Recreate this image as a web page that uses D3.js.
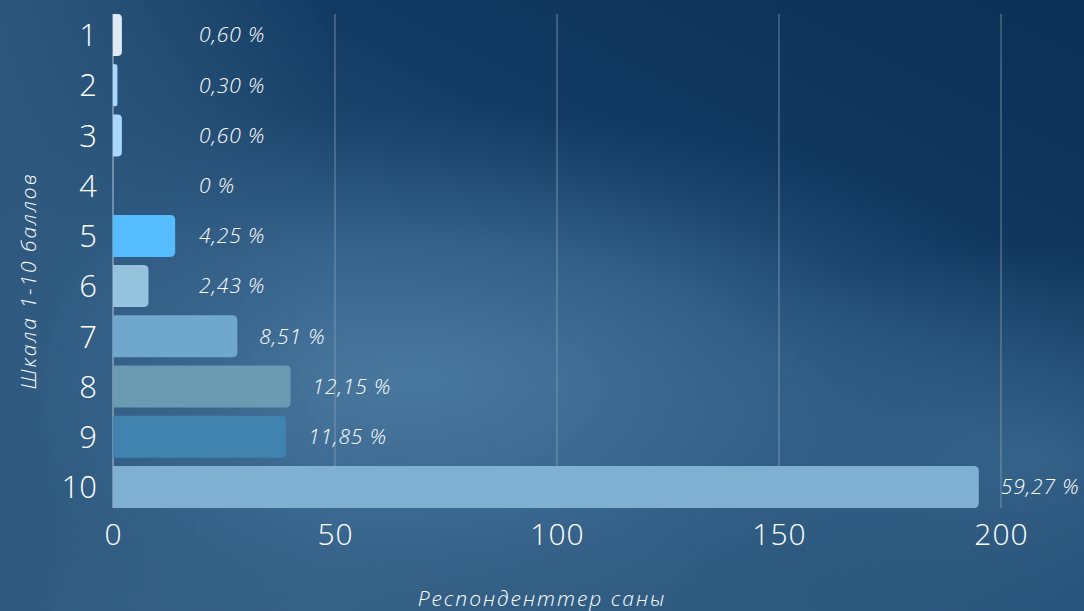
<!DOCTYPE html>
<html>
<head>
<meta charset="utf-8">
<script src="https://cdn.jsdelivr.net/npm/d3@7"></script>
<style>
  html, body { margin: 0; padding: 0; background: #2d5880; }
  svg { display: block; font-family: "Open Sans", "Lato", sans-serif; }
</style>
</head>
<body>
<svg id="chart" width="1084" height="611"></svg>
<script>
// scores 1..10, number of respondents, share labels, bar colours
var categories = ["1", "2", "3", "4", "5", "6", "7", "8", "9", "10"];
var counts = [2, 1, 2, 0, 14, 8, 28, 40, 39, 195];
var shares = ["0,60 %", "0,30 %", "0,60 %", "0 %", "4,25 %", "2,43 %", "8,51 %", "12,15 %", "11,85 %", "59,27 %"];
var barColors = ["#dfeaf4", "#a8d8fb", "#a8d8fb", "#a8d8fb", "#55bdff", "#95c2dc", "#70a8cd", "#6b9ab3", "#4083ae", "#7fb0d2"];
var xTicks = [0, 50, 100, 150, 200];

var svg = d3.select("#chart");
var W = 1084, H = 611;
var margin = {left: 113, right: 83, top: 10, bottom: 99};

  // background gradients
var defs = svg.append("defs");
var lin = defs.append("linearGradient").attr("id", "bg")
    .attr("x1", "1").attr("y1", "0").attr("x2", "0.1").attr("y2", "1");
lin.append("stop").attr("offset", "0").attr("stop-color", "#0c2f55");
lin.append("stop").attr("offset", "0.35").attr("stop-color", "#123a62");
lin.append("stop").attr("offset", "0.7").attr("stop-color", "#2f5a80");
lin.append("stop").attr("offset", "1").attr("stop-color", "#3a6589");

var glow = defs.append("radialGradient").attr("id", "glow")
    .attr("cx", "0.38").attr("cy", "0.62").attr("r", "0.45")
    .attr("gradientTransform", "translate(0.38,0.62) scale(1.4,1) rotate(-30) translate(-0.38,-0.62)");
glow.append("stop").attr("offset", "0").attr("stop-color", "#4b7aa0").attr("stop-opacity", 0.95);
glow.append("stop").attr("offset", "0.5").attr("stop-color", "#41709a").attr("stop-opacity", 0.6);
glow.append("stop").attr("offset", "1").attr("stop-color", "#2f5a80").attr("stop-opacity", 0);

var glowR = defs.append("radialGradient").attr("id", "glowR")
    .attr("cx", "0.95").attr("cy", "0.75").attr("r", "0.35");
glowR.append("stop").attr("offset", "0").attr("stop-color", "#3c6a90").attr("stop-opacity", 0.8);
glowR.append("stop").attr("offset", "1").attr("stop-color", "#3c6a90").attr("stop-opacity", 0);

var leftG = defs.append("linearGradient").attr("id", "leftG")
    .attr("x1", "0").attr("y1", "0").attr("x2", "1").attr("y2", "0");
leftG.append("stop").attr("offset", "0").attr("stop-color", "#2e587e").attr("stop-opacity", 0.9);
leftG.append("stop").attr("offset", "0.12").attr("stop-color", "#2e587e").attr("stop-opacity", 0.5);
leftG.append("stop").attr("offset", "0.3").attr("stop-color", "#2e587e").attr("stop-opacity", 0);

svg.append("rect").attr("width", W).attr("height", H).attr("fill", "url(#bg)");
svg.append("rect").attr("width", W).attr("height", H).attr("fill", "url(#glow)");
svg.append("rect").attr("width", W).attr("height", H).attr("fill", "url(#glowR)");
svg.append("rect").attr("width", W).attr("height", H).attr("fill", "url(#leftG)");

var x = d3.scaleLinear().domain([0, 200]).range([margin.left, W - margin.right]);
var y = d3.scaleBand().domain(categories)
    .range([margin.top, H - margin.bottom])
    .paddingInner(0.164).paddingOuter(0.08);

  // vertical grid lines
svg.append("g").selectAll("line")
    .data(xTicks.slice(1))
    .join("line")
    .attr("x1", d => x(d)).attr("x2", d => x(d))
    .attr("y1", y.range()[0] + 4).attr("y2", y.range()[1] - 4)
    .attr("stroke", "#8fa9c0").attr("stroke-opacity", 0.7).attr("stroke-width", 1);

  // axis line
svg.append("line")
    .attr("x1", x(0)).attr("x2", x(0))
    .attr("y1", y.range()[0] + 4).attr("y2", y.range()[1] - 4)
    .attr("stroke", "#9fb3c6").attr("stroke-width", 1.2);

  // bars with rounded right end
function barPath(v, cat) {
  var x0 = x(0), x1 = x(v), y0 = y(cat), h = y.bandwidth();
  var r = Math.min(5, (x1 - x0) / 2);
  if (x1 - x0 <= 0) return "";
  return "M" + x0 + "," + y0 + "H" + (x1 - r) +
    "Q" + x1 + "," + y0 + " " + x1 + "," + (y0 + r) +
    "V" + (y0 + h - r) +
    "Q" + x1 + "," + (y0 + h) + " " + (x1 - r) + "," + (y0 + h) +
    "H" + x0 + "Z";
}

svg.append("g").selectAll("path")
    .data(categories)
    .join("path")
    .attr("d", (c, i) => barPath(counts[i], c))
    .attr("fill", (c, i) => barColors[i]);

  // percentage labels
svg.append("g").selectAll("text")
    .data(categories)
    .join("text")
    .attr("x", (c, i) => Math.max(x(counts[i]) + 22, x(0) + 86))
    .attr("y", c => y(c) + y.bandwidth() / 2)
    .attr("dy", "0.35em")
    .attr("fill", "#ffffff")
    .attr("font-size", 21)
    .attr("letter-spacing", 0.9)
    .attr("font-style", "italic")
    .attr("font-weight", 300)
    .text((c, i) => shares[i]);

  // y tick labels
var axisLeft = svg.append("g")
    .attr("transform", "translate(" + (x(0) - 16) + ",0)")
    .call(d3.axisLeft(y).tickSize(0).tickPadding(0));
axisLeft.select(".domain").remove();
axisLeft.selectAll("text")
    .attr("font-family", "'Open Sans', sans-serif")
    .attr("font-size", 31).attr("font-weight", 300)
    .attr("fill", "#ffffff").attr("dy", "0.36em");

  // x tick labels
var axisBottom = svg.append("g")
    .attr("transform", "translate(0," + (H - margin.bottom) + ")")
    .call(d3.axisBottom(x).tickValues(xTicks).tickSize(0).tickPadding(12));
axisBottom.select(".domain").remove();
axisBottom.selectAll("text")
    .attr("font-family", "'Open Sans', sans-serif")
    .attr("font-size", 30).attr("font-weight", 300)
    .attr("letter-spacing", 1)
    .attr("fill", "#ffffff").attr("dy", "0.71em");

  // axis titles
svg.append("text")
    .attr("x", 542).attr("y", 606)
    .attr("text-anchor", "middle")
    .attr("fill", "#ffffff").attr("font-size", 21)
    .attr("letter-spacing", 2)
    .attr("font-style", "italic").attr("font-weight", 300)
    .text("Респонденттер саны");

svg.append("text")
    .attr("transform", "translate(36,281) rotate(-90)")
    .attr("text-anchor", "middle")
    .attr("fill", "#ffffff").attr("font-size", 21)
    .attr("letter-spacing", 2)
    .attr("font-style", "italic").attr("font-weight", 300)
    .text("Шкала 1-10 баллов");
</script>
</body>
</html>
